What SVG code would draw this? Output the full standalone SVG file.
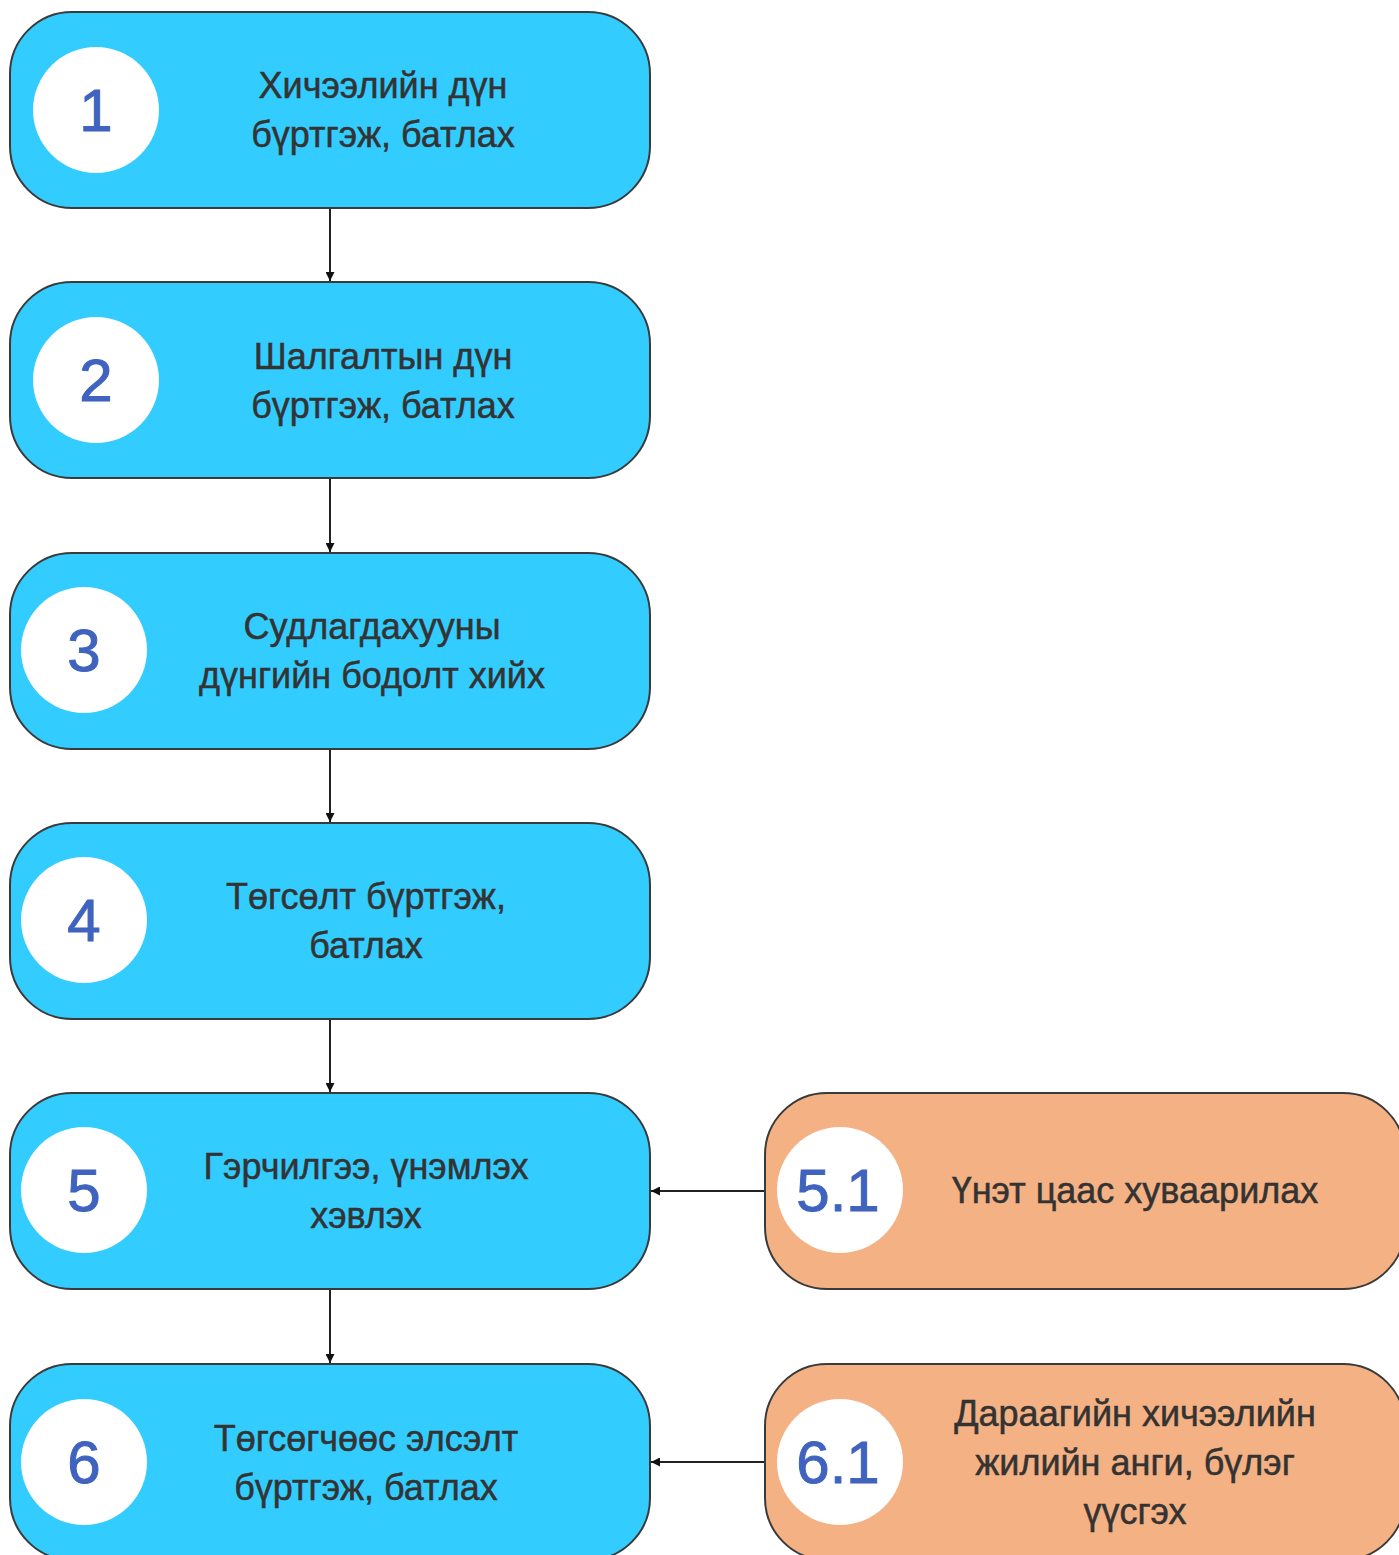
<svg xmlns="http://www.w3.org/2000/svg" width="1399" height="1555" viewBox="0 0 1399 1555">
<defs>
<style>
.blue{fill:#33CCFF;stroke:#3a3a3a;stroke-width:2}
.orange{fill:#F4B183;stroke:#3a3a3a;stroke-width:2}
.circ{fill:#FFFFFF}
.num{font-family:"Liberation Sans","Noto Sans",sans-serif;font-size:60px;fill:#3F63BE;text-anchor:middle;stroke:#3F63BE;stroke-width:1}
.lbl{font-family:"Liberation Sans","Noto Sans",sans-serif;font-size:36px;fill:#333333;text-anchor:middle;stroke:#333333;stroke-width:0.5}
.conn{stroke:#222;stroke-width:2;fill:none}
</style>
<marker id="ah" viewBox="0 0 10 10" refX="10" refY="5" markerWidth="9" markerHeight="9" orient="auto" markerUnits="userSpaceOnUse">
<path d="M0,0 L10,5 L0,10 z" fill="#111"/>
</marker>
</defs>
<rect width="1399" height="1555" fill="#FFFFFF"/>
<g id="connectors">
<line class="conn" x1="330" y1="209" x2="330" y2="281" marker-end="url(#ah)"/>
<line class="conn" x1="330" y1="479" x2="330" y2="552" marker-end="url(#ah)"/>
<line class="conn" x1="330" y1="750" x2="330" y2="822" marker-end="url(#ah)"/>
<line class="conn" x1="330" y1="1020" x2="330" y2="1092" marker-end="url(#ah)"/>
<line class="conn" x1="330" y1="1290" x2="330" y2="1363" marker-end="url(#ah)"/>
<line class="conn" x1="765" y1="1191" x2="651" y2="1191" marker-end="url(#ah)"/>
<line class="conn" x1="765" y1="1462" x2="651" y2="1462" marker-end="url(#ah)"/>
</g>
<g id="node1">
<rect class="blue" x="10" y="12" width="640" height="196" rx="62"/>
<circle class="circ" cx="96" cy="110" r="63"/>
<text class="num" x="96" y="131">1</text>
<text class="lbl" x="383" y="98">Хичээлийн дүн</text>
<text class="lbl" x="383" y="147">бүртгэж, батлах</text>
</g>
<g id="node2">
<rect class="blue" x="10" y="282" width="640" height="196" rx="62"/>
<circle class="circ" cx="96" cy="380" r="63"/>
<text class="num" x="96" y="401">2</text>
<text class="lbl" x="383" y="369">Шалгалтын дүн</text>
<text class="lbl" x="383" y="418">бүртгэж, батлах</text>
</g>
<g id="node3">
<rect class="blue" x="10" y="553" width="640" height="196" rx="62"/>
<circle class="circ" cx="84" cy="650" r="63"/>
<text class="num" x="84" y="671">3</text>
<text class="lbl" x="372" y="639">Судлагдахууны</text>
<text class="lbl" x="372" y="688">дүнгийн бодолт хийх</text>
</g>
<g id="node4">
<rect class="blue" x="10" y="823" width="640" height="196" rx="62"/>
<circle class="circ" cx="84" cy="920" r="63"/>
<text class="num" x="84" y="941">4</text>
<text class="lbl" x="366" y="909">Төгсөлт бүртгэж,</text>
<text class="lbl" x="366" y="958">батлах</text>
</g>
<g id="node5">
<rect class="blue" x="10" y="1093" width="640" height="196" rx="62"/>
<circle class="circ" cx="84" cy="1190" r="63"/>
<text class="num" x="84" y="1211">5</text>
<text class="lbl" x="366" y="1179">Гэрчилгээ, үнэмлэх</text>
<text class="lbl" x="366" y="1228">хэвлэх</text>
</g>
<g id="node6">
<rect class="blue" x="10" y="1364" width="640" height="196" rx="62"/>
<circle class="circ" cx="84" cy="1462" r="63"/>
<text class="num" x="84" y="1483">6</text>
<text class="lbl" x="366" y="1451">Төгсөгчөөс элсэлт</text>
<text class="lbl" x="366" y="1500">бүртгэж, батлах</text>
</g>
<g id="node51">
<rect class="orange" x="765" y="1093" width="640" height="196" rx="62"/>
<circle class="circ" cx="840" cy="1190" r="63"/>
<text class="num" x="838" y="1211">5.1</text>
<text class="lbl" x="1135" y="1203">Үнэт цаас хуваарилах</text>
</g>
<g id="node61">
<rect class="orange" x="765" y="1364" width="640" height="196" rx="62"/>
<circle class="circ" cx="840" cy="1462" r="63"/>
<text class="num" x="838" y="1483">6.1</text>
<text class="lbl" x="1135" y="1426">Дараагийн хичээлийн</text>
<text class="lbl" x="1135" y="1475">жилийн анги, бүлэг</text>
<text class="lbl" x="1135" y="1524">үүсгэх</text>
</g>
</svg>
